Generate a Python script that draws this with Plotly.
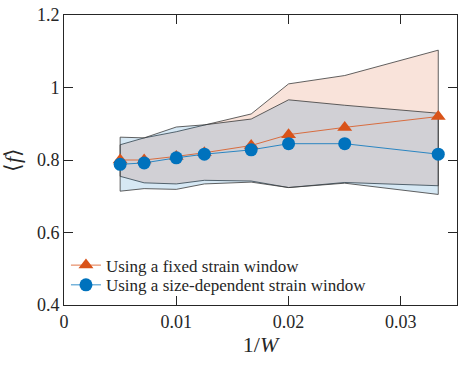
import plotly.graph_objects as go

# inverse system size
inv_w = [0.005, 0.00714, 0.01, 0.0125, 0.01667, 0.02, 0.025, 0.03333]

# mean f, fixed strain window, with its band
f_fixed = [0.80, 0.80, 0.81, 0.82, 0.84, 0.87, 0.89, 0.92]
fixed_hi = [0.842, 0.861, 0.878, 0.896, 0.927, 1.010, 1.033, 1.103]
fixed_lo = [0.755, 0.737, 0.734, 0.744, 0.742, 0.724, 0.738, 0.729]

# mean f, size-dependent strain window, with its band
f_size = [0.788, 0.792, 0.806, 0.816, 0.828, 0.845, 0.845, 0.816]
size_hi = [0.863, 0.861, 0.891, 0.897, 0.913, 0.966, 0.951, 0.929]
size_lo = [0.714, 0.721, 0.719, 0.734, 0.739, 0.724, 0.736, 0.705]

orange = "#D95319"
blue = "#0072BD"
font = "Liberation Serif"

fig = go.Figure()

# shaded bands (orange first, blue on top gives the grey overlap)
for hi, lo, fc in [(fixed_hi, fixed_lo, "rgba(217,83,25,0.16)"),
                   (size_hi, size_lo, "rgba(0,114,189,0.16)")]:
    fig.add_trace(go.Scatter(
        x=inv_w + inv_w[::-1] + [inv_w[0]],
        y=hi + lo[::-1] + [hi[0]],
        fill="toself", fillcolor=fc, mode="lines",
        line=dict(color="#3a3a3a", width=0.8),
        showlegend=False, hoverinfo="skip"))

# one legend box per entry so the rows sit as close as in the original
fig.add_trace(go.Scatter(
    x=inv_w, y=f_fixed, mode="lines+markers",
    name="Using a fixed strain window", legend="legend",
    line=dict(color=orange, width=0.8),
    marker=dict(symbol="triangle-up", size=13, color=orange)))

fig.add_trace(go.Scatter(
    x=inv_w, y=f_size, mode="lines+markers",
    name="Using a size-dependent strain window", legend="legend2",
    line=dict(color=blue, width=0.8),
    marker=dict(symbol="circle", size=13, color=blue)))

axis_style = dict(showline=True, linecolor="#262626", linewidth=1, mirror="ticks",
                  ticks="inside", ticklen=9, tickcolor="#262626", showgrid=False,
                  zeroline=False, tickfont=dict(family=font, size=18, color="#262626"))

legend_style = dict(x=0.005, xanchor="left", yanchor="middle",
                    bgcolor="rgba(0,0,0,0)", font=dict(family=font, size=17),
                    itemwidth=30)

fig.update_layout(
    width=463, height=365,
    margin=dict(l=63, r=5, t=10, b=60),
    paper_bgcolor="white", plot_bgcolor="white",
    font=dict(family=font, color="#262626"),
    xaxis=dict(range=[0, 0.035], tickvals=[0, 0.01, 0.02, 0.03],
               ticktext=["0", "0.01", "0.02", "0.03"],
               title=dict(text="1/<i>W</i>", font=dict(size=22), standoff=0),
               **axis_style),
    yaxis=dict(range=[0.4, 1.2], tickvals=[0.4, 0.6, 0.8, 1, 1.2],
               ticktext=["0.4", "0.6", "0.8", "1", "1.2"],
               title=dict(text="⟨<i>f</i>⟩", font=dict(size=22), standoff=17),
               **axis_style),
    legend=dict(y=0.136, **legend_style),
    legend2=dict(y=0.068, **legend_style),
)

# drop the page's default body margin so the figure sits at the top-left corner
fig.write_html("out.html", config={"displayModeBar": False},
               post_script="document.body.style.margin = '0';")
